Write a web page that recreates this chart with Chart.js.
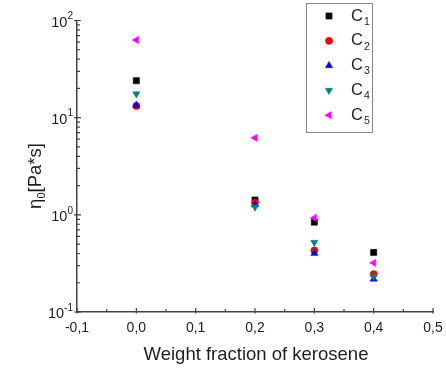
<!DOCTYPE html>
<html>
<head>
<meta charset="utf-8">
<script src="https://cdn.jsdelivr.net/npm/chart.js@4.4.1/dist/chart.umd.min.js"></script>
<style>
  html, body { margin: 0; padding: 0; background: #fff; }
  #wrap { width: 446px; height: 371px; }
</style>
</head>
<body>
<div id="wrap"><canvas id="c" width="446" height="371"></canvas></div>
<script>
// Kerosene weight fractions (x) and zero-shear viscosity of each sample (Pa*s)
const fractions = [0.0, 0.2, 0.3, 0.4];
const seriesNames = ['1', '2', '3', '4', '5'];   // subscripts of C
const C1 = [24.0, 1.42, 0.84, 0.41];
const C2 = [13.2, 1.33, 0.43, 0.245];
const C3 = [13.4, 1.27, 0.40, 0.218];
const C4 = [17.6, 1.20, 0.52, 0.232];
const C5 = [63.0, 6.2, 0.93, 0.32];

const xTickValues = [-0.1, 0.0, 0.1, 0.2, 0.3, 0.4, 0.5];
const xTickLabels = ['-0,1', '0,0', '0,1', '0,2', '0,3', '0,4', '0,5'];
const yTickValues = [0.1, 1, 10, 100];
const yTickExponents = ['-1', '0', '1', '2'];

const FONT = '"Liberation Sans", Arial, sans-serif';
const INK = '#1e1e1e';
const AXIS = '#444';

const styles = [
  { color: '#000000', pointStyle: 'rect',     rotation: 0,   radius: 4.4 },
  { color: '#ff0000', pointStyle: 'circle',   rotation: 0,   radius: 3.6 },
  { color: '#0000ff', pointStyle: 'triangle', rotation: 0,   radius: 4.2 },
  { color: '#008080', pointStyle: 'triangle', rotation: 180, radius: 4.2 },
  { color: '#ff00ff', pointStyle: 'triangle', rotation: -90, radius: 4.2 }
];

const values = [C1, C2, C3, C4, C5];
const datasets = values.map((vals, i) => ({
  label: 'C' + seriesNames[i],
  data: fractions.map((f, j) => ({ x: f, y: vals[j] })),
  pointStyle: styles[i].pointStyle,
  rotation: styles[i].rotation,
  pointRadius: styles[i].radius,
  pointHoverRadius: styles[i].radius,
  backgroundColor: styles[i].color,
  borderColor: styles[i].color,
  borderWidth: 0.5,
  showLine: false,
  order: values.length - i
}));

function drawMarker(ctx, st, x, y) {
  const opts = { pointStyle: st.pointStyle, rotation: st.rotation, radius: st.radius, borderWidth: 0.5 };
  ctx.save();
  ctx.fillStyle = st.color;
  ctx.strokeStyle = st.color;
  ctx.lineWidth = 0.5;
  Chart.helpers.drawPoint(ctx, opts, x, y);
  ctx.restore();
}

// Inward ticks, tick labels, axis titles and the framed legend
const decorations = {
  id: 'decorations',
  afterDraw(chart) {
    const ctx = chart.ctx;
    const xs = chart.scales.x, ys = chart.scales.y;
    const area = chart.chartArea;
    ctx.save();
    ctx.strokeStyle = AXIS;
    ctx.lineWidth = 1.2;

    // x ticks: major every 0.1, minor at halves
    ctx.beginPath();
    for (let k = 0; k < xTickValues.length; k++) {
      const px = xs.getPixelForValue(xTickValues[k]);
      ctx.moveTo(px, area.bottom + 1.5);
      ctx.lineTo(px, area.bottom - 4);
      if (k < xTickValues.length - 1) {
        const mx = xs.getPixelForValue((xTickValues[k] + xTickValues[k + 1]) / 2);
        ctx.moveTo(mx, area.bottom);
        ctx.lineTo(mx, area.bottom - 3);
      }
    }
    // y ticks: decades plus minor 2..9
    for (let k = 0; k < yTickValues.length; k++) {
      const py = ys.getPixelForValue(yTickValues[k]);
      ctx.moveTo(area.left - 3, py);
      ctx.lineTo(area.left + 4, py);
      if (k < yTickValues.length - 1) {
        for (let m = 2; m <= 9; m++) {
          const my = ys.getPixelForValue(yTickValues[k] * m);
          ctx.moveTo(area.left, my);
          ctx.lineTo(area.left + 3, my);
        }
      }
    }
    ctx.stroke();

    ctx.fillStyle = INK;
    // x tick labels
    ctx.font = '14px ' + FONT;
    ctx.textAlign = 'center';
    ctx.textBaseline = 'middle';
    xTickValues.forEach((v, k) => {
      ctx.fillText(xTickLabels[k], xs.getPixelForValue(v), area.bottom + 16);
    });

    // y tick labels as 10 with a raised exponent
    yTickValues.forEach((v, k) => {
      const py = ys.getPixelForValue(v);
      ctx.font = '10px ' + FONT;
      const ew = ctx.measureText(yTickExponents[k]).width;
      const right = area.left - 4;
      ctx.textAlign = 'left';
      ctx.textBaseline = 'middle';
      ctx.fillText(yTickExponents[k], right - ew, py - 4);
      ctx.font = '14.5px ' + FONT;
      ctx.textAlign = 'right';
      ctx.fillText('10', right - ew, py + 2);
    });

    // x title
    ctx.font = '18.5px ' + FONT;
    ctx.textAlign = 'center';
    ctx.textBaseline = 'middle';
    ctx.fillText('Weight fraction of kerosene', 256, 355);

    // y title with subscript
    ctx.save();
    ctx.translate(36, 176);
    ctx.rotate(-Math.PI / 2);
    ctx.textBaseline = 'middle';
    ctx.font = '18.5px ' + FONT;
    const eta = 'η', sub = '0', rest = '[Pa*s]';
    const wEta = ctx.measureText(eta).width;
    const wRest = ctx.measureText(rest).width;
    ctx.font = '11px ' + FONT;
    const wSub = ctx.measureText(sub).width;
    const total = wEta + wSub + wRest;
    let tx = -total / 2;
    ctx.textAlign = 'left';
    ctx.font = '18.5px ' + FONT;
    ctx.fillText(eta, tx, 0);
    tx += wEta;
    ctx.font = '11px ' + FONT;
    ctx.fillText(sub, tx, 6);
    tx += wSub;
    ctx.font = '18.5px ' + FONT;
    ctx.fillText(rest, tx, 0);
    ctx.restore();

    // legend box
    ctx.strokeStyle = '#888';
    ctx.lineWidth = 1;
    ctx.strokeRect(306.5, 3.5, 66, 129);
    chart.data.datasets.forEach((ds, i) => {
      const ry = 16 + i * 24.8;
      drawMarker(ctx, styles[i], 329, ry);
      ctx.fillStyle = INK;
      ctx.textAlign = 'left';
      ctx.textBaseline = 'middle';
      ctx.font = '16.5px ' + FONT;
      ctx.fillText('C', 351, ry);
      const cw = ctx.measureText('C').width;
      ctx.font = '10.5px ' + FONT;
      ctx.fillText(seriesNames[i], 351 + cw + 1, ry + 6);
    });
    ctx.restore();
  }
};

new Chart(document.getElementById('c'), {
  type: 'scatter',
  data: { datasets },
  options: {
    responsive: false,
    animation: false,
    devicePixelRatio: 1,
    layout: { padding: { left: 77, right: 13, top: 20.5, bottom: 59 } },
    plugins: { legend: { display: false }, tooltip: { enabled: false } },
    scales: {
      x: {
        type: 'linear', min: -0.1, max: 0.5,
        ticks: { display: false },
        grid: { display: false, drawTicks: false },
        border: { display: true, color: AXIS, width: 1.5 }
      },
      y: {
        type: 'logarithmic', min: 0.1, max: 100,
        ticks: { display: false },
        grid: { display: false, drawTicks: false },
        border: { display: true, color: AXIS, width: 1.5 }
      }
    }
  },
  plugins: [decorations]
});
</script>
</body>
</html>
